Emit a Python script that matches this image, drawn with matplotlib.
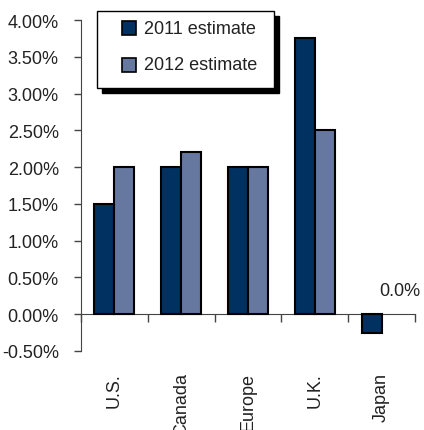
import matplotlib.pyplot as plt
from matplotlib.patches import Rectangle
from matplotlib.transforms import blended_transform_factory

# data
categories = ["U.S.", "Canada", "Europe", "U.K.", "Japan"]
est_2011 = [1.50, 2.00, 2.00, 3.75, -0.25]
est_2012 = [2.00, 2.20, 2.00, 2.50, 0.00]
series_names = ["2011 estimate", "2012 estimate"]
colors = ["#003161", "#6677a0"]

plt.rcParams['font.family'] = ['Liberation Sans Narrow', 'Liberation Sans', 'DejaVu Sans']
txt = "#222222"

fig = plt.figure(figsize=(4.24, 4.31), dpi=100)
ax = fig.add_axes([81/424, 1 - 352/431, 334/424, 331/431])

x = list(range(len(categories)))
w = 0.3
# no outline on zero-height bars
lw_2011 = [1.5 if v != 0 else 0 for v in est_2011]
lw_2012 = [1.5 if v != 0 else 0 for v in est_2012]
ax.bar([i - w/2 for i in x], est_2011, width=w, color=colors[0], edgecolor="black", linewidth=lw_2011, zorder=3)
ax.bar([i + w/2 for i in x], est_2012, width=w, color=colors[1], edgecolor="black", linewidth=lw_2012, zorder=3)

ax.set_xlim(-0.5, len(categories) - 0.5)
ax.set_ylim(-0.5, 4.0)
ax.set_yticks([i * 0.5 for i in range(-1, 9)])
ax.set_yticklabels([f"{v:.2f}%" for v in ax.get_yticks()], fontsize=13, color=txt)
ax.set_xticks([i - 0.5 for i in range(len(categories) + 1)])
ax.set_xticklabels([])

for s in ["top", "right"]:
    ax.spines[s].set_visible(False)
ax.spines["bottom"].set_position(("data", 0))
ax.spines["left"].set_color("#444444")
ax.spines["bottom"].set_color("#444444")
ax.tick_params(axis="y", direction="out", length=5, width=1, color="#444444", pad=11)
ax.tick_params(axis="x", direction="out", length=5.5, width=1, color="#444444")

# category labels below the plot
tr = blended_transform_factory(ax.transData, ax.transAxes)
for i, c in enumerate(categories):
    ax.text(i, -0.063, c, transform=tr, rotation=90, ha="center", va="top",
            fontsize=13, color=txt)

# value label for Japan 2012
ax.annotate(f"{est_2012[4]:.1f}%", xy=(4 + w/2, 0), xytext=(8, 15),
            textcoords="offset pixels", ha="center", va="bottom", fontsize=13, color=txt)

# legend box with shadow
ft = fig.transFigure
def fx(px):
    return px / 424
def fy(py):
    return 1 - py / 431

fig.patches.append(Rectangle((fx(102), fy(94)), fx(177), 77/431, transform=ft,
                             facecolor="black", edgecolor="black", zorder=5))
fig.patches.append(Rectangle((fx(97), fy(89)), fx(177), 77/431, transform=ft,
                             facecolor="white", edgecolor="black", linewidth=1, zorder=6))
for k, (name, col) in enumerate(zip(series_names, colors)):
    cy = 29 + k * 37
    fig.patches.append(Rectangle((fx(122), fy(cy + 7)), fx(14), 14/431, transform=ft,
                                 facecolor=col, edgecolor="black", linewidth=1.2, zorder=7))
    fig.text(fx(144), fy(cy), name, ha="left", va="center", fontsize=13, color=txt, zorder=8)

fig.savefig("out.png", dpi=100)
